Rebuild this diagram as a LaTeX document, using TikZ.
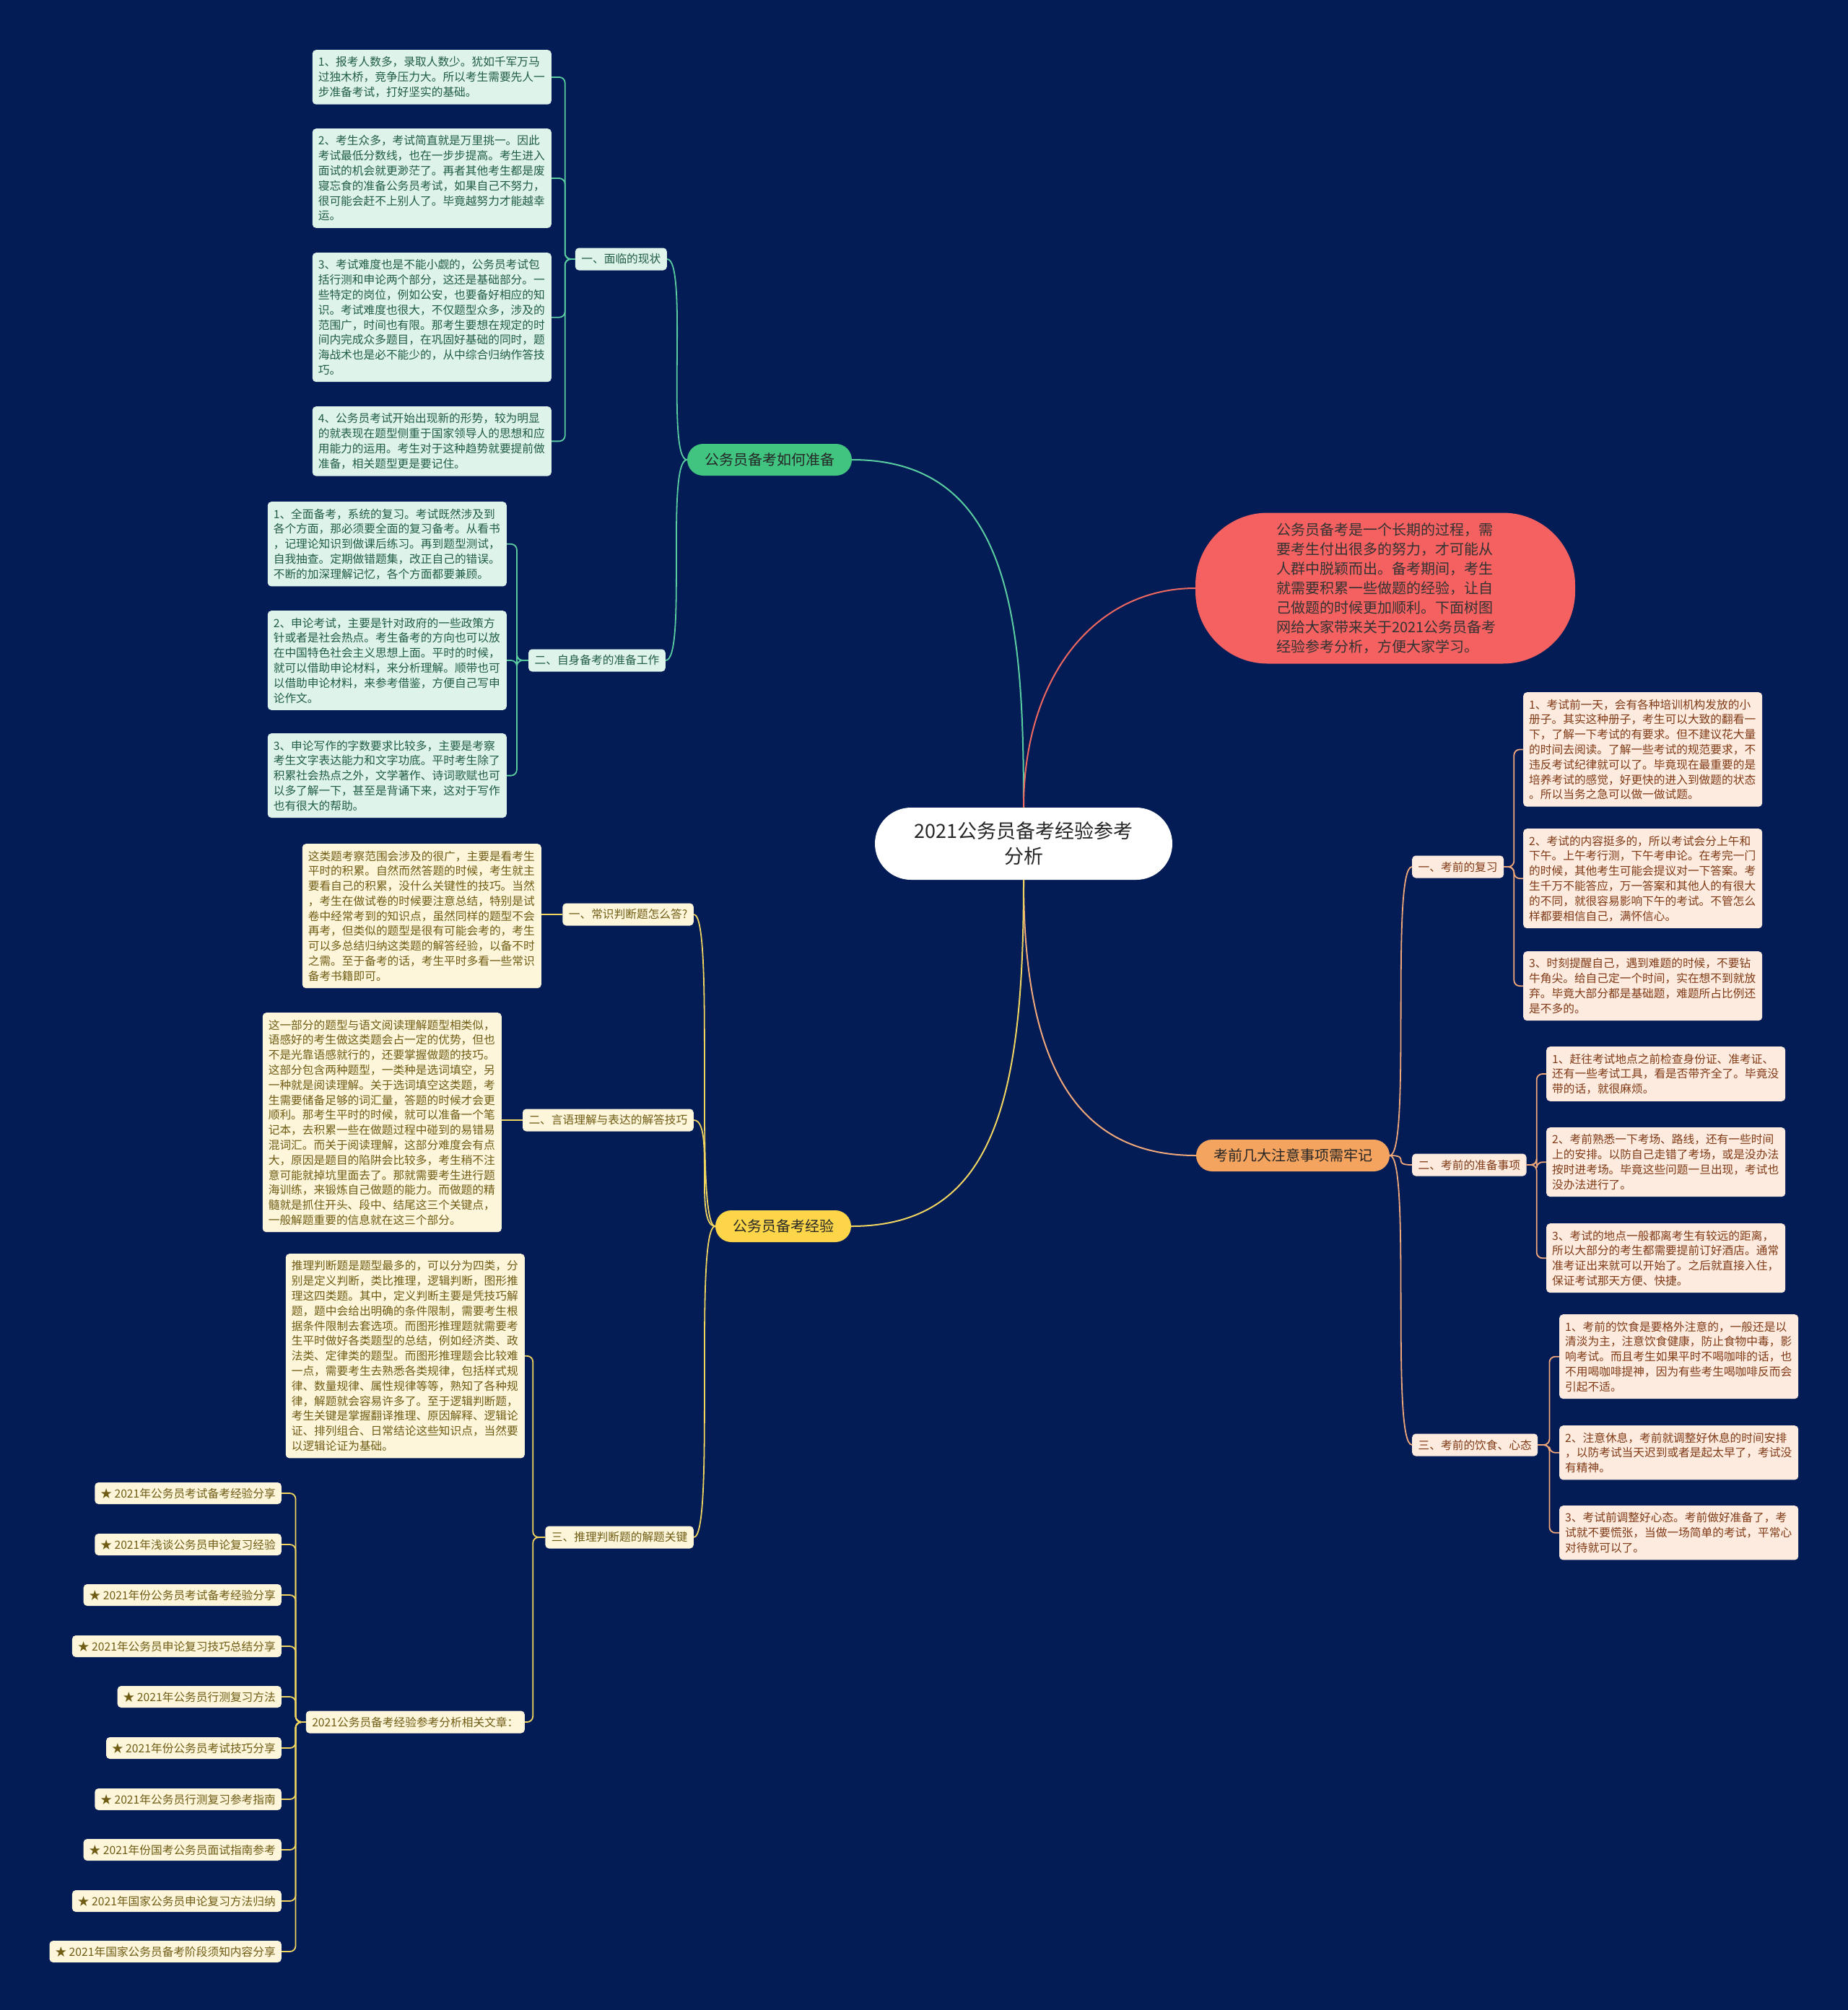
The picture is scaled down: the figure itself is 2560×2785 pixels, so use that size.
\documentclass[tikz,border=0pt]{standalone}
\usepackage{fontspec}
\setmainfont{Noto Sans CJK SC}
\usepackage{tikz}
\definecolor{mapbg}{RGB}{3,28,86}
\definecolor{mapgreen}{RGB}{64,196,128}
\definecolor{mapgreenln}{RGB}{90,205,160}
\definecolor{mapgreenlf}{RGB}{222,243,234}
\definecolor{mapgreentx}{RGB}{32,92,70}
\definecolor{mapred}{RGB}{245,96,96}
\definecolor{mapredln}{RGB}{238,104,96}
\definecolor{maporange}{RGB}{245,164,96}
\definecolor{maporangeln}{RGB}{240,168,122}
\definecolor{maporangelf}{RGB}{253,235,223}
\definecolor{maporangetx}{RGB}{128,58,22}
\definecolor{mapyellow}{RGB}{252,214,72}
\definecolor{mapyellowln}{RGB}{240,212,96}
\definecolor{mapyellowlf}{RGB}{253,246,219}
\definecolor{mapyellowtx}{RGB}{112,92,20}

\begin{document}
\begin{tikzpicture}[
    x=1pt, y=1pt,
    rootbox/.style={fill=white, rounded corners=50pt, minimum width=412pt,
      minimum height=100pt, align=center, text=black!85,
      font=\fontsize{27}{35}\selectfont},
    branchbox/.style={fill=#1, rounded corners=22pt, minimum height=44pt,
      inner xsep=24pt, text=black!85, font=\fontsize{20}{24}\selectfont},
    introbox/.style={fill=mapred, rounded corners=100pt, minimum width=526pt,
      minimum height=209pt, text width=302pt, align=left, text=black!80,
      font=\fontsize{20}{27}\selectfont},
    subbox/.style={fill=#1lf, text=#1tx, rounded corners=5pt, minimum height=31pt,
      inner xsep=8.5pt, font=\fontsize{15.7}{18}\selectfont},
    leafbox/.style={fill=#1lf, text=#1tx, rounded corners=5pt, text width=315pt,
      inner xsep=8pt, inner ysep=9.5pt, align=left,
      font=\fontsize{15.7}{20.8}\selectfont},
    linkbox/.style={fill=mapyellowlf, text=mapyellowtx, rounded corners=5pt,
      minimum height=30pt, inner xsep=8pt, font=\fontsize{15.7}{18}\selectfont},
    trunk/.style={draw=#1, line width=2pt},
    twig/.style={draw=#1, line width=1.8pt, rounded corners=8pt}
  ]

  %% Background
  \fill[mapbg] (0,0) rectangle (2560,-2785);
  \useasboundingbox (0,0) rectangle (2560,-2785);

  %% Centre and main branches
  \node[rootbox] (root) at (1418,-1169) {2021公务员备考经验参考\\分析};
  \node[branchbox=mapgreen] (gbr) at (1066,-637) {公务员备考如何准备};
  \node[introbox] (intro) at (1919,-815) {公务员备考是一个长期的过程，需\\要考生付出很多的努力，才可能从\\人群中脱颖而出。备考期间，考生\\就需要积累一些做题的经验，让自\\己做题的时候更加顺利。下面树图\\网给大家带来关于2021公务员备考\\经验参考分析，方便大家学习。};
  \node[branchbox=maporange] (obr) at (1791,-1601) {考前几大注意事项需牢记};
  \node[branchbox=mapyellow] (ybr) at (1085,-1699) {公务员备考经验};

  %% Green branch
  \node[subbox=mapgreen, anchor=east] (g1) at (924,-359) {一、面临的现状};
  \node[subbox=mapgreen, anchor=east] (g2) at (922,-915) {二、自身备考的准备工作};

  \node[leafbox=mapgreen, anchor=north east] (gl1) at (764,-69) {1、报考人数多，录取人数少。犹如千军万马\\过独木桥，竞争压力大。所以考生需要先人一\\步准备考试，打好坚实的基础。};
  \node[leafbox=mapgreen, anchor=north east] (gl2) at (764,-178) {2、考生众多，考试简直就是万里挑一。因此\\考试最低分数线，也在一步步提高。考生进入\\面试的机会就更渺茫了。再者其他考生都是废\\寝忘食的准备公务员考试，如果自己不努力，\\很可能会赶不上别人了。毕竟越努力才能越幸\\运。};
  \node[leafbox=mapgreen, anchor=north east] (gl3) at (764,-350) {3、考试难度也是不能小觑的，公务员考试包\\括行测和申论两个部分，这还是基础部分。一\\些特定的岗位，例如公安，也要备好相应的知\\识。考试难度也很大，不仅题型众多，涉及的\\范围广，时间也有限。那考生要想在规定的时\\间内完成众多题目，在巩固好基础的同时，题\\海战术也是必不能少的，从中综合归纳作答技\\巧。};
  \node[leafbox=mapgreen, anchor=north east] (gl4) at (764,-563) {4、公务员考试开始出现新的形势，较为明显\\的就表现在题型侧重于国家领导人的思想和应\\用能力的运用。考生对于这种趋势就要提前做\\准备，相关题型更是要记住。};

  \node[leafbox=mapgreen, anchor=north east] (gk1) at (702,-695) {1、全面备考，系统的复习。考试既然涉及到\\各个方面，那必须要全面的复习备考。从看书\\，记理论知识到做课后练习。再到题型测试，\\自我抽查。定期做错题集，改正自己的错误。\\不断的加深理解记忆，各个方面都要兼顾。};
  \node[leafbox=mapgreen, anchor=north east] (gk2) at (702,-846) {2、申论考试，主要是针对政府的一些政策方\\针或者是社会热点。考生备考的方向也可以放\\在中国特色社会主义思想上面。平时的时候，\\就可以借助申论材料，来分析理解。顺带也可\\以借助申论材料，来参考借鉴，方便自己写申\\论作文。};
  \node[leafbox=mapgreen, anchor=north east] (gk3) at (702,-1016) {3、申论写作的字数要求比较多，主要是考察\\考生文字表达能力和文字功底。平时考生除了\\积累社会热点之外，文学著作、诗词歌赋也可\\以多了解一下，甚至是背诵下来，这对于写作\\也有很大的帮助。};

  %% Yellow branch
  \node[subbox=mapyellow, anchor=east] (y1) at (961,-1267) {一、常识判断题怎么答?};
  \node[subbox=mapyellow, anchor=east] (y2) at (961,-1552) {二、言语理解与表达的解答技巧};
  \node[subbox=mapyellow, anchor=east] (y3) at (961,-2130) {三、推理判断题的解题关键};
  \node[subbox=mapyellow, anchor=east] (y4) at (727,-2386) {2021公务员备考经验参考分析相关文章：};

  \node[leafbox=mapyellow, anchor=north east] (yl1) at (750,-1169) {这类题考察范围会涉及的很广，主要是看考生\\平时的积累。自然而然答题的时候，考生就主\\要看自己的积累，没什么关键性的技巧。当然\\，考生在做试卷的时候要注意总结，特别是试\\卷中经常考到的知识点，虽然同样的题型不会\\再考，但类似的题型是很有可能会考的，考生\\可以多总结归纳这类题的解答经验，以备不时\\之需。至于备考的话，考生平时多看一些常识\\备考书籍即可。};
  \node[leafbox=mapyellow, anchor=north east] (yl2) at (695,-1403) {这一部分的题型与语文阅读理解题型相类似，\\语感好的考生做这类题会占一定的优势，但也\\不是光靠语感就行的，还要掌握做题的技巧。\\这部分包含两种题型，一类种是选词填空，另\\一种就是阅读理解。关于选词填空这类题，考\\生需要储备足够的词汇量，答题的时候才会更\\顺利。那考生平时的时候，就可以准备一个笔\\记本，去积累一些在做题过程中碰到的易错易\\混词汇。而关于阅读理解，这部分难度会有点\\大，原因是题目的陷阱会比较多，考生稍不注\\意可能就掉坑里面去了。那就需要考生进行题\\海训练，来锻炼自己做题的能力。而做题的精\\髓就是抓住开头、段中、结尾这三个关键点，\\一般解题重要的信息就在这三个部分。};
  \node[leafbox=mapyellow, anchor=north east] (yl3) at (727,-1737) {推理判断题是题型最多的，可以分为四类，分\\别是定义判断，类比推理，逻辑判断，图形推\\理这四类题。其中，定义判断主要是凭技巧解\\题，题中会给出明确的条件限制，需要考生根\\据条件限制去套选项。而图形推理题就需要考\\生平时做好各类题型的总结，例如经济类、政\\法类、定律类的题型。而图形推理题会比较难\\一点，需要考生去熟悉各类规律，包括样式规\\律、数量规律、属性规律等等，熟知了各种规\\律，解题就会容易许多了。至于逻辑判断题，\\考生关键是掌握翻译推理、原因解释、逻辑论\\证、排列组合、日常结论这些知识点，当然要\\以逻辑论证为基础。};

  %% Related articles
  \node[linkbox, anchor=east] (lk1) at (390,-2069) {★ 2021年公务员考试备考经验分享};
  \node[linkbox, anchor=east] (lk2) at (390,-2140) {★ 2021年浅谈公务员申论复习经验};
  \node[linkbox, anchor=east] (lk3) at (390,-2210) {★ 2021年份公务员考试备考经验分享};
  \node[linkbox, anchor=east] (lk4) at (390,-2281) {★ 2021年公务员申论复习技巧总结分享};
  \node[linkbox, anchor=east] (lk5) at (390,-2351) {★ 2021年公务员行测复习方法};
  \node[linkbox, anchor=east] (lk6) at (390,-2422) {★ 2021年份公务员考试技巧分享};
  \node[linkbox, anchor=east] (lk7) at (390,-2493) {★ 2021年公务员行测复习参考指南};
  \node[linkbox, anchor=east] (lk8) at (390,-2563) {★ 2021年份国考公务员面试指南参考};
  \node[linkbox, anchor=east] (lk9) at (390,-2634) {★ 2021年国家公务员申论复习方法归纳};
  \node[linkbox, anchor=east] (lk10) at (390,-2704) {★ 2021年国家公务员备考阶段须知内容分享};

  %% Orange branch
  \node[subbox=maporange, anchor=west] (o1) at (1956,-1201) {一、考前的复习};
  \node[subbox=maporange, anchor=west] (o2) at (1956,-1614) {二、考前的准备事项};
  \node[subbox=maporange, anchor=west] (o3) at (1956,-2002) {三、考前的饮食、心态};

  \node[leafbox=maporange, anchor=north west] (ol1) at (2110,-959) {1、考试前一天，会有各种培训机构发放的小\\册子。其实这种册子，考生可以大致的翻看一\\下，了解一下考试的有要求。但不建议花大量\\的时间去阅读。了解一些考试的规范要求，不\\违反考试纪律就可以了。毕竟现在最重要的是\\培养考试的感觉，好更快的进入到做题的状态\\。所以当务之急可以做一做试题。};
  \node[leafbox=maporange, anchor=north west] (ol2) at (2110,-1148) {2、考试的内容挺多的，所以考试会分上午和\\下午。上午考行测，下午考申论。在考完一门\\的时候，其他考生可能会提议对一下答案。考\\生千万不能答应，万一答案和其他人的有很大\\的不同，就很容易影响下午的考试。不管怎么\\样都要相信自己，满怀信心。};
  \node[leafbox=maporange, anchor=north west] (ol3) at (2110,-1318) {3、时刻提醒自己，遇到难题的时候，不要钻\\牛角尖。给自己定一个时间，实在想不到就放\\弃。毕竟大部分都是基础题，难题所占比例还\\是不多的。};

  \node[leafbox=maporange, anchor=north west] (op1) at (2142,-1450) {1、赶往考试地点之前检查身份证、准考证、\\还有一些考试工具，看是否带齐全了。毕竟没\\带的话，就很麻烦。};
  \node[leafbox=maporange, anchor=north west] (op2) at (2142,-1562) {2、考前熟悉一下考场、路线，还有一些时间\\上的安排。以防自己走错了考场，或是没办法\\按时进考场。毕竟这些问题一旦出现，考试也\\没办法进行了。};
  \node[leafbox=maporange, anchor=north west] (op3) at (2142,-1695) {3、考试的地点一般都离考生有较远的距离，\\所以大部分的考生都需要提前订好酒店。通常\\准考证出来就可以开始了。之后就直接入住，\\保证考试那天方便、快捷。};

  \node[leafbox=maporange, anchor=north west] (od1) at (2160,-1821) {1、考前的饮食是要格外注意的，一般还是以\\清淡为主，注意饮食健康，防止食物中毒，影\\响考试。而且考生如果平时不喝咖啡的话，也\\不用喝咖啡提神，因为有些考生喝咖啡反而会\\引起不适。};
  \node[leafbox=maporange, anchor=north west] (od2) at (2160,-1975) {2、注意休息，考前就调整好休息的时间安排\\，以防考试当天迟到或者是起太早了，考试没\\有精神。};
  \node[leafbox=maporange, anchor=north west] (od3) at (2160,-2086) {3、考试前调整好心态。考前做好准备了，考\\试就不要慌张，当做一场简单的考试，平常心\\对待就可以了。};

  %% Centre connectors
  \draw[trunk=mapgreenln]  (root.north) .. controls +(0,260) and +(220,0) .. (gbr.east);
  \draw[trunk=mapredln]    (root.north) .. controls +(0,180) and +(-140,0) .. (intro.west);
  \draw[trunk=maporangeln] (root.south) .. controls +(0,-250) and +(-170,0) .. (obr.west);
  \draw[trunk=mapyellowln] (root.south) .. controls +(0,-300) and +(200,0) .. (ybr.east);

  %% Branch to sub connectors
  \draw[twig=mapgreenln] (gbr.west) .. controls +(-30,0) and +(30,0) .. (g1.east);
  \draw[twig=mapgreenln] (gbr.west) .. controls +(-30,0) and +(30,0) .. (g2.east);
  \draw[twig=mapyellowln] (ybr.west) .. controls +(-30,0) and +(30,0) .. (y1.east);
  \draw[twig=mapyellowln] (ybr.west) .. controls +(-30,0) and +(30,0) .. (y2.east);
  \draw[twig=mapyellowln] (ybr.west) .. controls +(-30,0) and +(30,0) .. (y3.east);
  \draw[twig=maporangeln] (obr.east) .. controls +(30,0) and +(-30,0) .. (o1.west);
  \draw[twig=maporangeln] (obr.east) .. controls +(30,0) and +(-30,0) .. (o2.west);
  \draw[twig=maporangeln] (obr.east) .. controls +(30,0) and +(-30,0) .. (o3.west);

  %% Sub to leaf connectors
  \foreach \n in {gl1,gl2,gl3,gl4}
    \draw[twig=mapgreenln] (g1.west) -- ++(-14,0) |- (\n.east);
  \foreach \n in {gk1,gk2,gk3}
    \draw[twig=mapgreenln] (g2.west) -- ++(-16,0) |- (\n.east);
  \draw[twig=mapyellowln] (y1.west) -- (y1.west -| yl1.east);
  \draw[twig=mapyellowln] (y2.west) -- (y2.west -| yl2.east);
  \foreach \n in {yl3,y4}
    \draw[twig=mapyellowln] (y3.west) -- ++(-17,0) |- (\n.east);
  \foreach \n in {lk1,lk2,lk3,lk4,lk5,lk6,lk7,lk8,lk9,lk10}
    \draw[twig=mapyellowln] (y4.west) -- ++(-14,0) |- (\n.east);
  \foreach \n in {ol1,ol2,ol3}
    \draw[twig=maporangeln] (o1.east) -- ++(14,0) |- (\n.west);
  \foreach \n in {op1,op2,op3}
    \draw[twig=maporangeln] (o2.east) -- ++(14,0) |- (\n.west);
  \foreach \n in {od1,od2,od3}
    \draw[twig=maporangeln] (o3.east) -- ++(16,0) |- (\n.west);

\end{tikzpicture}
\end{document}
